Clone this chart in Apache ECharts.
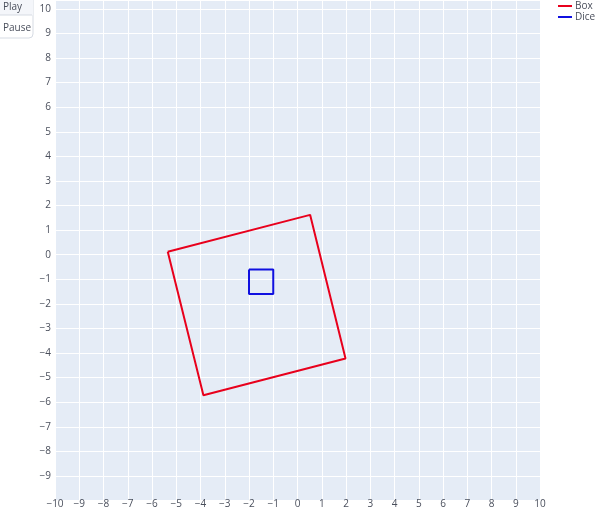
<!DOCTYPE html>
<html><head><meta charset="utf-8">
<script src="https://cdn.jsdelivr.net/npm/echarts@6/dist/echarts.min.js"></script>
<style>html,body{margin:0;padding:0;background:#fff}#c{width:600px;height:509px}</style>
</head><body><div id="c"></div>
<script>
const seriesNames = ['Box', 'Dice'];
const boxX = [-5.35, 0.52, 1.98, -3.88, -5.35];
const boxY = [0.12, 1.62, -4.22, -5.72, 0.12];
const diceX = [-2, -1, -1, -2, -2];
const diceY = [-0.6, -0.6, -1.6, -1.6, -0.6];
const buttonLabels = ['Play', 'Pause'];

const fmt = v => (v < 0 ? '\u2212' + Math.abs(v) : String(v));
const zip = (xs, ys) => xs.map((x, i) => [x, ys[i]]);
const font = '"Open Sans", "DejaVu Sans", sans-serif';
const txt = '#4a4f5c';

const chart = echarts.init(document.getElementById('c'), null, {renderer: 'canvas'});
chart.setOption({
  animation: false,
  backgroundColor: '#fff',
  grid: {left: 55, right: 60, top: 0, bottom: 3, backgroundColor: '#E5ECF6', show: true, borderWidth: 0},
  xAxis: {
    type: 'value', min: -10, max: 10, interval: 1,
    axisLine: {show: false}, axisTick: {show: false},
    splitLine: {lineStyle: {color: '#fff', width: 1}},
    axisLabel: {formatter: fmt, color: txt, fontSize: 10, fontFamily: font, margin: -1.5}
  },
  yAxis: {
    type: 'value', min: -10, max: 10.36, interval: 1,
    axisLine: {show: false}, axisTick: {show: false},
    splitLine: {lineStyle: {color: '#fff', width: 1}},
    axisLabel: {formatter: fmt, color: txt, fontSize: 10, fontFamily: font, margin: 4,
      showMinLabel: false, showMaxLabel: false}
  },
  legend: {
    orient: 'vertical', left: 553, top: -4, itemGap: 1,
    itemWidth: 14, itemHeight: 2, icon: 'rect',
    textStyle: {color: txt, fontSize: 10, fontFamily: font, padding: [0, 0, 0, -2]},
    data: seriesNames
  },
  series: [
    {name: seriesNames[0], type: 'line', data: zip(boxX, boxY), showSymbol: false,
     lineStyle: {color: '#e8001c', width: 2}, itemStyle: {color: '#e8001c'}},
    {name: seriesNames[1], type: 'line', data: zip(diceX, diceY), showSymbol: false,
     lineStyle: {color: '#1010e0', width: 2}, itemStyle: {color: '#1010e0'}}
  ],
  graphic: [
    {type: 'rect', shape: {x: -5, y: -5, width: 38, height: 43, r: 4},
     style: {fill: '#fff', stroke: '#d6dbe3', lineWidth: 1}},
    {type: 'rect', shape: {x: -5, y: -5, width: 38, height: 20, r: [4, 4, 0, 0]},
     style: {fill: '#f4f6fa'}},
    {type: 'line', shape: {x1: 0, y1: 15, x2: 32, y2: 15}, style: {stroke: '#d6dbe3', lineWidth: 1}},
    {type: 'text', x: 3, y: 2, style: {text: buttonLabels[0], fill: txt, fontSize: 10, fontFamily: font}},
    {type: 'text', x: 3, y: 23, style: {text: buttonLabels[1], fill: txt, fontSize: 10, fontFamily: font}}
  ]
});
</script></body></html>
